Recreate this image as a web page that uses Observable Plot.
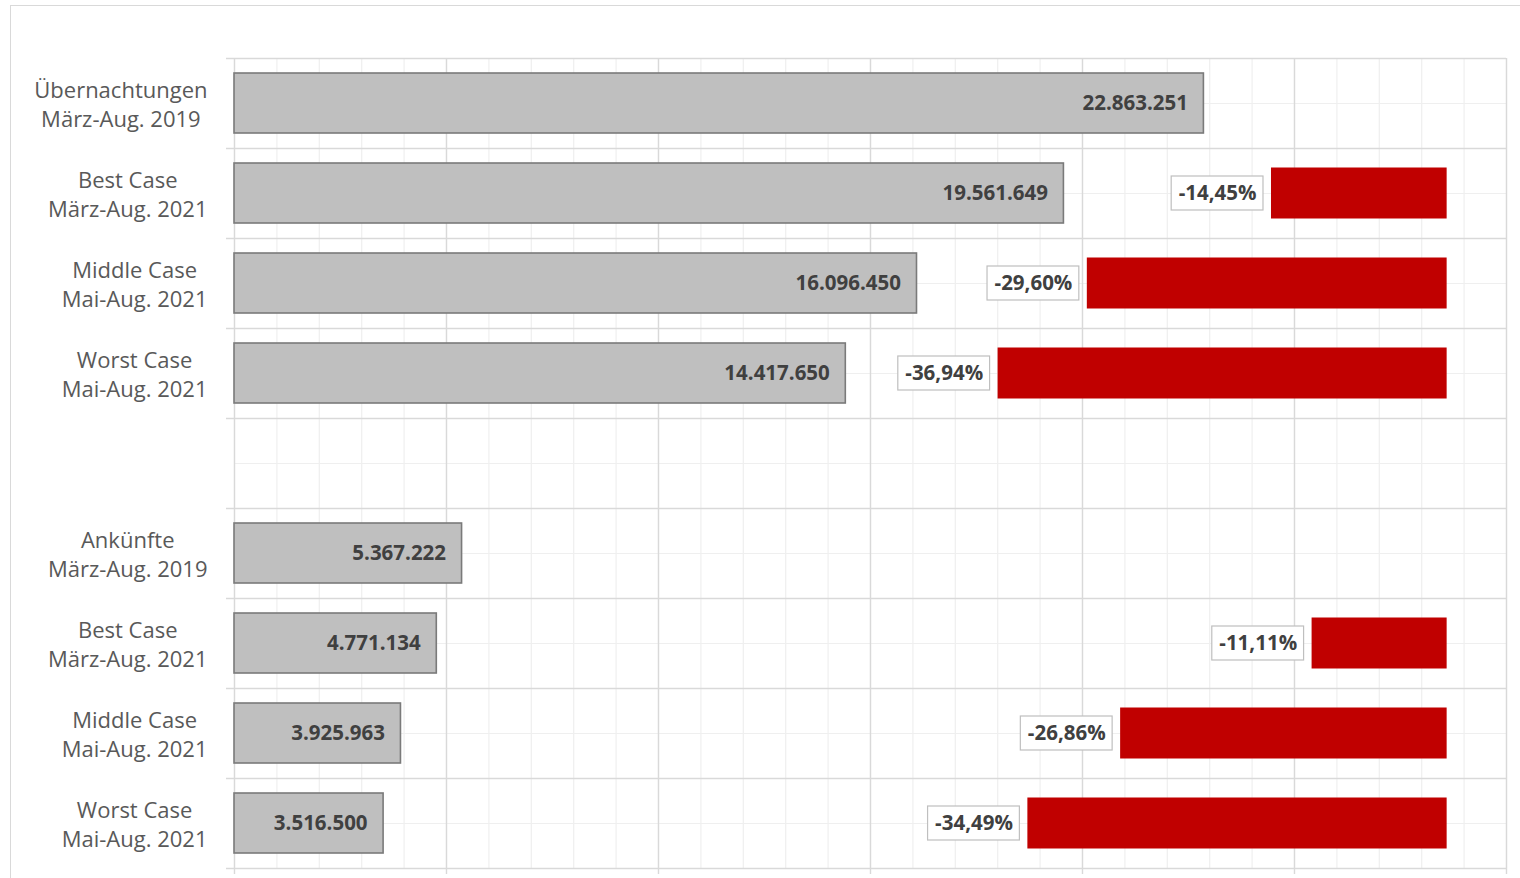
<!DOCTYPE html>
<html><head><meta charset="utf-8">
<script src="https://cdn.jsdelivr.net/npm/d3@7"></script>
<script src="https://cdn.jsdelivr.net/npm/@observablehq/plot@0.6"></script>
<style>
body{margin:0;background:#fff;}
#wrap{position:relative;width:1520px;height:878px;overflow:hidden;background:#fff;}
#frame{position:absolute;left:10px;top:5px;width:1700px;height:1000px;border:1.5px solid #d9d9d9;box-sizing:border-box;}
#chart{position:absolute;left:0;top:0;}
</style></head><body>
<div id="wrap"><div id="frame"></div><div id="chart"></div></div>
<script>
// ---- data ----
const categories = [
  "Übernachtungen\nMärz-Aug. 2019",
  "Best Case\nMärz-Aug. 2021",
  "Middle Case\nMai-Aug. 2021",
  "Worst Case\nMai-Aug. 2021",
  "",
  "Ankünfte\nMärz-Aug. 2019",
  "Best Case\nMärz-Aug. 2021",
  "Middle Case\nMai-Aug. 2021",
  "Worst Case\nMai-Aug. 2021"
];
const values = [22863251, 19561649, 16096450, 14417650, null, 5367222, 4771134, 3925963, 3516500];
const changes = [null, -14.45, -29.60, -36.94, null, null, -11.11, -26.86, -34.49];
const xTicksMajor = [0, 5e6, 10e6, 15e6, 20e6, 25e6, 30e6];

// ---- layout / scale constants ----
const W = 1520, H = 878;
const ML = 234, MR = 14, MT = 58, MB = 10;
const X_MAX = 30e6;
const unitsPerPx = X_MAX / (W - ML - MR);
const CHANGE_END = 28.6e6;      // right end of the change bars (secondary axis)
const CHANGE_UNIT = 0.2867e6;   // x-units per percentage point
const nRows = categories.length;
const rowPx = (H - MT - MB) / nRows;

const loc = d3.formatLocale({decimal: ",", thousands: ".", grouping: [3], currency: ["", "€"], minus: "-"});
const fmtInt = loc.format(",d");
const fmtPct = loc.format(",.2f");

const VAL_SIZE = 20.5;
const labelFont = "22px 'Open Sans'";
const valFont = `bold ${VAL_SIZE}px 'Open Sans'`;
const ctx = document.createElement("canvas").getContext("2d");
function tw(str, font) { ctx.font = font; return d3.max(str.split("\n"), s => ctx.measureText(s).width); }

const rows = categories.map((c, i) => ({
  i, label: c, value: values[i], change: changes[i]
}));
const barRows = rows.filter(d => d.value != null);
const chgRows = rows.filter(d => d.change != null).map(d => {
  const start = CHANGE_END + d.change * CHANGE_UNIT;
  const txt = fmtPct(d.change) + "%";
  const w = tw(txt, valFont) + 14;
  const bx2 = start - 8 * unitsPerPx;
  const bx1 = bx2 - w * unitsPerPx;
  return {...d, start, txt, bx1, bx2, bxc: (bx1 + bx2) / 2};
});
const labelRows = rows.filter(d => d.label).map(d => ({...d, lx: (207 - tw(d.label, labelFont) / 2 - ML) * unitsPerPx}));

const chart = Plot.plot({
  width: W, height: H,
  marginLeft: ML, marginRight: MR, marginTop: MT, marginBottom: MB,
  x: {domain: [0, X_MAX], axis: null},
  y: {domain: [nRows, 0], axis: null},
  style: {fontFamily: "'Open Sans', sans-serif", background: "transparent"},
  marks: [
    // minor grid
    Plot.ruleX(d3.range(0, X_MAX + 1, 1e6), {stroke: "#efefef", strokeWidth: 1.2, y1: 0, y2: nRows}),
    Plot.ruleY(d3.range(0.5, nRows, 1), {stroke: "#efefef", strokeWidth: 1.2, x1: 0, x2: X_MAX}),
    // major grid (with outside ticks)
    Plot.ruleX(xTicksMajor, {stroke: "#d9d9d9", strokeWidth: 1.4, y1: 0, y2: nRows + 6 / rowPx}),
    Plot.ruleY(d3.range(0, nRows + 1), {stroke: "#d9d9d9", strokeWidth: 1.4, x1: -8 * unitsPerPx, x2: X_MAX}),
    // gray bars
    Plot.rectX(barRows, {x1: 0, x2: "value", y1: "i", y2: d => d.i + 1, insetTop: 15, insetBottom: 15,
      fill: "#bfbfbf", stroke: "#7a7a7a", strokeWidth: 1.6}),
    Plot.text(barRows, {x: "value", y: d => d.i + 0.5, text: d => fmtInt(d.value), dx: -16, textAnchor: "end",
      fill: "#404040", fontWeight: "bold", fontSize: VAL_SIZE}),
    // change bars
    Plot.rectX(chgRows, {x1: "start", x2: CHANGE_END, y1: "i", y2: d => d.i + 1, insetTop: 19.5, insetBottom: 19.5,
      fill: "#c00000"}),
    Plot.rectX(chgRows, {x1: "bx1", x2: "bx2", y1: "i", y2: d => d.i + 1, insetTop: 28, insetBottom: 28,
      fill: "white", stroke: "#bfbfbf", strokeWidth: 1.2}),
    Plot.text(chgRows, {x: "bxc", y: d => d.i + 0.5, text: "txt", fill: "#404040", fontWeight: "bold", fontSize: VAL_SIZE}),
    // category labels
    Plot.text(labelRows, {x: "lx", y: d => d.i + 0.5, text: "label", fill: "#595959", fontSize: 22, lineHeight: 1.3,
      textAnchor: "middle"})
  ]
});
document.getElementById("chart").append(chart);
</script>
</body></html>
